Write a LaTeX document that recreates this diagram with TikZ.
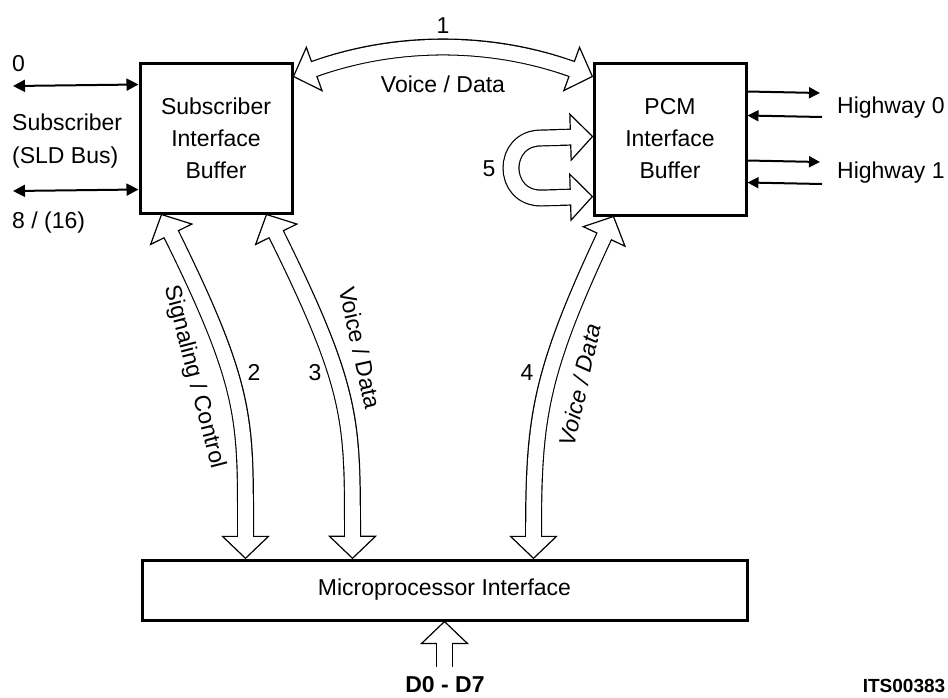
\documentclass[tikz,border=0pt]{standalone}
\usepackage{fontspec}
\setmainfont{Liberation Sans}
\usetikzlibrary{arrows.meta,decorations.markings}
\newcommand\barrowboth[1]{%
  \draw[line width=17pt, shorten <=21pt, shorten >=21pt] #1;
  \path[decorate, decoration={markings,
    mark=at position 0 with {\draw[headst] (0,0) -- (22,23) -- (22,-23) -- cycle;},
    mark=at position 0.9995 with {\draw[headst] (0,0) -- (-22,23) -- (-22,-23) -- cycle;}}] #1;
  \draw[white, line width=14.6pt, shorten <=19pt, shorten >=19pt] #1;}
\newcommand\barrowend[1]{%
  \draw[line width=17pt, shorten >=21pt] #1;
  \path[decorate, decoration={markings,
    mark=at position 0.9995 with {\draw[headst] (0,0) -- (-22,23) -- (-22,-23) -- cycle;}}] #1;
  \draw[white, line width=14.6pt, shorten >=19pt] #1;}
\begin{document}
\begin{tikzpicture}[x=1pt,y=-1pt,
  every node/.style={font=\fontsize{23}{32}\selectfont, inner sep=0pt},
  box/.style={draw, line width=3pt, align=center},
  thinarrow/.style={line width=2pt, {Triangle[length=12pt,width=12pt]}-{Triangle[length=12pt,width=12pt]}},
  thinout/.style={line width=2pt, -{Triangle[length=11pt,width=11pt]}},
  headst/.style={draw=black, fill=white, line width=1.2pt, line join=miter},
  lbl/.style={anchor=base},
  lblw/.style={anchor=base west}
]
\useasboundingbox (0,0) rectangle (948,697);

% boxes
\node[box, minimum width=152pt, minimum height=150pt] (sib) at (216,138) {Subscriber\\Interface\\Buffer};
\node[box, minimum width=152pt, minimum height=152pt] (pcm) at (670,139) {PCM\\Interface\\Buffer};
\node[box, minimum width=605pt, minimum height=60pt] (mpi) at (444.5,590) {Microprocessor Interface};

% subscriber side
\coordinate (s0) at (13,86);
\coordinate (s1) at (13,191);
\draw[thinarrow] (s0) -- ([yshift=-23pt]sib.north west);
\draw[thinarrow] (s1) -- ([yshift=-128pt]sib.north west);
\node[lblw] (l0) at (12,71) {0};
\node[lblw] (lsub) at (12,130) {Subscriber};
\node[lblw] (lsld) at (12,163) {(SLD Bus)};
\node[lblw] (l8) at (12,228) {8 / (16)};

% highways
\coordinate (h0o) at (820,93);
\coordinate (h0i) at (822,117);
\coordinate (h1o) at (820,162);
\coordinate (h1i) at (822,184);
\draw[thinout] ([yshift=-30pt]pcm.north east) -- (h0o);
\draw[thinout] (h0i) -- ([yshift=-54pt]pcm.north east);
\draw[thinout] ([yshift=-99pt]pcm.north east) -- (h1o);
\draw[thinout] (h1i) -- ([yshift=-121pt]pcm.north east);
\node[lblw] (hw0) at (837,113) {Highway 0};
\node[lblw] (hw1) at (837,178) {Highway 1};

% hollow arrows
\barrowboth{([yshift=-15pt]sib.north east) .. controls +(102,-37) and +(-102,-37) .. ([yshift=-15pt]pcm.north west)}
\barrowboth{([xshift=23pt]sib.south west) .. controls +(87,176) and +(0,-139) .. ([xshift=105pt]mpi.north west)}
\barrowboth{([xshift=128pt]sib.south west) .. controls +(87,176) and +(0,-139) .. ([xshift=212pt]mpi.north west)}
\barrowboth{([xshift=21pt]pcm.south west) .. controls +(-75,160) and +(0,-139) .. ([xshift=393pt]mpi.north west)}
\barrowboth{([yshift=-75pt]pcm.north west) -- (541,138) .. controls (501,138) and (501,198) .. (541,198) -- ([yshift=-135pt]pcm.north west)}
\coordinate (d0) at ([yshift=-45pt]mpi.south);
\barrowend{(d0) -- (mpi.south)}

% labels
\node[lbl] (n1) at (443,33) {1};
\node[lbl] (vd1) at (443,92) {Voice / Data};
\node[lbl] (n5) at (489,176) {5};
\node[lbl] (n2) at (254,380) {2};
\node[lbl] (n3) at (315,380) {3};
\node[lbl] (n4) at (527,380) {4};
\node[rotate=-75.5] (sc) at (194,377) {Signaling / Control};
\node[rotate=-77.5] (vd3) at (360,348) {Voice / Data};
\node[rotate=77.4, font=\fontsize{23}{32}\selectfont\itshape] (vd4) at (580,385) {Voice / Data};
\node[lbl, font=\fontsize{23}{28}\selectfont\bfseries] (dd) at (445,692) {D0 - D7};
\node[lbl, font=\fontsize{19}{24}\selectfont\bfseries] (its) at (904,692) {ITS00383};
\end{tikzpicture}
\end{document}
